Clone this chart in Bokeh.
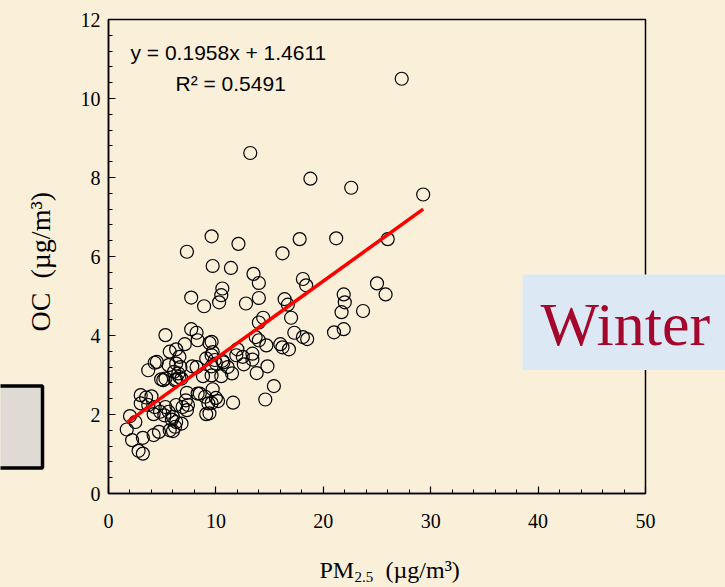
import math
from bokeh.plotting import figure
from bokeh.models import Range1d, Label, SingleIntervalTicker
from bokeh.core.properties import value
from bokeh.embed import file_html
from bokeh.resources import INLINE
from jinja2 import Template

# ---------------- data ----------------
pm25 = [27.3, 13.2, 18.8, 22.6, 29.3, 7.3, 9.6, 12.1, 16.2, 17.8, 21.2, 26.0,
        9.7, 11.4, 13.5, 14.0, 10.6, 18.1, 18.4, 25.0, 25.8, 21.9, 22.0, 21.7,
        23.7, 21.0, 21.9, 18.1, 18.5, 10.5, 10.3, 14.0, 12.8, 16.4, 16.7, 17.0,
        14.4, 14.0, 17.3, 13.7, 14.0, 14.7, 16.0, 16.2, 16.8, 9.6, 12.0, 11.9,
        13.4, 13.4, 12.6, 10.6, 11.1, 10.5, 11.5, 13.8, 14.8, 15.4, 14.6, 11.6,
        9.7, 10.0, 9.6, 9.4, 9.7, 7.7, 8.9, 5.3, 7.7, 8.2, 8.3, 7.1,
        6.3, 5.7, 6.6, 9.4, 4.5, 5.6, 3.7, 6.1, 6.5, 4.9, 5.3, 6.3,
        6.8, 7.8, 8.2, 8.8, 9.6, 9.1, 10.0, 9.6, 3.0, 3.5, 4.0, 3.0,
        3.7, 4.3, 4.8, 4.2, 2.0, 2.5, 5.3, 5.6, 6.0, 5.2, 6.3, 7.2,
        7.4, 9.0, 9.3, 9.1, 1.7, 2.2, 3.2, 4.2, 4.7, 5.7, 6.2, 6.8,
        2.8, 3.2, 6.3, 5.9, 6.9, 7.3, 8.5, 10.2, 7.3, 8.3, 4.3, 6.3,
        6.7, 5.1, 6.2, 6.6, 9.6, 9.9, 10.7, 12.5, 6.0]
oc = [10.50, 8.62, 7.97, 7.74, 7.57, 6.12, 6.51, 6.32, 6.08, 6.44, 6.46, 6.44,
      5.76, 5.71, 5.56, 5.33, 5.19, 5.43, 5.27, 5.32, 5.04, 5.04, 4.84, 4.59,
      4.62, 4.08, 4.16, 3.96, 3.91, 5.02, 4.84, 4.95, 4.81, 4.92, 4.78, 4.45,
      4.45, 4.33, 4.07, 3.96, 3.88, 3.75, 3.78, 3.70, 3.65, 3.84, 3.65, 3.50,
      3.54, 3.39, 3.27, 3.36, 3.20, 2.97, 3.04, 3.05, 3.22, 2.72, 2.38, 2.30,
      2.64, 2.42, 2.29, 2.03, 3.58, 4.96, 4.74, 4.01, 4.16, 4.07, 3.88, 3.78,
      3.65, 3.59, 3.46, 3.81, 3.33, 3.25, 3.12, 3.08, 3.04, 2.89, 2.91, 2.89,
      2.91, 3.22, 3.20, 2.97, 3.22, 3.42, 3.29, 2.99, 2.49, 2.43, 2.46, 2.28,
      2.24, 2.19, 2.07, 2.01, 1.96, 1.81, 2.19, 2.07, 1.94, 1.98, 2.24, 2.36,
      2.24, 2.45, 2.28, 2.01, 1.62, 1.35, 1.41, 1.48, 1.56, 1.60, 1.69, 1.77,
      1.08, 1.01, 1.81, 1.87, 2.19, 2.11, 2.53, 2.34, 2.55, 2.53, 3.31, 3.29,
      3.20, 2.87, 2.87, 2.95, 3.50, 3.38, 3.32, 3.46, 1.58]

slope = 0.1958
intercept = 1.4611
r_squared = 0.5491
season = "Winter"
x_title = ["PM", "2.5", "(\u00b5g/m\u00b3)"]
y_title = "OC\u00a0\u00a0(\u00b5g/m\u00b3)"
x_axis_range = [0, 50]
y_axis_range = [0, 12]

# ---------------- styling ----------------
BG = "#FAF0DA"
SERIF = "Liberation Serif"
SANS = "Liberation Sans"
MID = 0.34   # baseline -> middle offset (fraction of font size)

FIG_W, FIG_H = 709, 571          # main figure (placed at the 8px page margin)
WIN_W, WIN_H = 725, 587          # overlay covers the whole window
FRAME_L, FRAME_T, FRAME_W, FRAME_H = 100, 11, 537, 474

p = figure(frame_width=FRAME_W, frame_height=FRAME_H,
           min_border_left=FRAME_L, min_border_top=FRAME_T,
           min_border_right=FIG_W - FRAME_L - FRAME_W,
           min_border_bottom=FIG_H - FRAME_T - FRAME_H,
           x_range=Range1d(*x_axis_range), y_range=Range1d(*y_axis_range),
           output_backend="svg", toolbar_location=None,
           background_fill_color=BG, border_fill_color=BG)
p.grid.visible = False
p.outline_line_color = "black"
p.outline_line_width = 1.5

p.xaxis.ticker = SingleIntervalTicker(interval=10, num_minor_ticks=5)
p.yaxis.ticker = SingleIntervalTicker(interval=2, num_minor_ticks=5)
p.axis.major_tick_in = 7
p.axis.major_tick_out = 0
p.axis.minor_tick_in = 4
p.axis.minor_tick_out = 0
p.axis.axis_line_width = 1.5
p.axis.major_tick_line_width = 1.2
p.axis.minor_tick_line_width = 1
p.axis.major_label_text_font = SERIF
p.axis.major_label_text_font_size = "20px"
p.axis.major_label_text_color = "black"
p.xaxis.major_label_standoff = 20
p.yaxis.major_label_standoff = 8

# points
p.scatter(pm25, oc, marker="circle", size=13, fill_color=None,
          line_color="black", line_width=1.2)

# regression line
fit_x = [min(pm25), max(pm25)]
fit_y = [slope * v + intercept for v in fit_x]
p.line(fit_x, fit_y, line_color="#FF0000", line_width=3.5)

# helpers: reference-window pixel -> data coordinate (annotation placement)
XS = FRAME_W / (x_axis_range[1] - x_axis_range[0])
YS = FRAME_H / (y_axis_range[1] - y_axis_range[0])
def dx(px):
    return (px - 8 - FRAME_L) / XS
def dy(py):
    return (FRAME_T + FRAME_H - (py - 8)) / YS

for txt, (lx, ly) in [(f"y = {slope}x + {intercept}", (130, 59)),
                      (f"R\u00b2 = {r_squared}", (175, 90))]:
    p.add_layout(Label(x=dx(lx), y=dy(ly - MID * 21), text=txt, text_font=SANS,
                       text_font_size="21px", text_color="black",
                       text_align="left", text_baseline="middle"))

# ---------------- overlay (texts and boxes outside the plot frame) ----------------
q = figure(width=WIN_W, height=WIN_H, min_border=0,
           x_range=Range1d(dx(0), dx(WIN_W)),
           y_range=Range1d(dy(WIN_H), dy(0)),
           x_axis_location=None, y_axis_location=None,
           output_backend="svg", toolbar_location=None,
           background_fill_color=None, border_fill_color=None)
q.grid.visible = False
q.outline_line_color = None

# gray box at left (cut by the window edge)
q.quad(left=[dx(-6)], right=[dx(42)], top=[dy(385.5)], bottom=[dy(467.5)],
       fill_color="#DFDBD4", line_color="black", line_width=3.5)
# season box
q.quad(left=[dx(522)], right=[dx(730)], top=[dy(274)], bottom=[dy(369.5)],
       fill_color="#DCE8F4", line_color=None)
q.text(x=[dx(540)], y=[dy(345 - MID * 62)], text=[season], text_font=value(SERIF),
       text_font_size=value("62px"), text_color="#A5072C",
       text_align="left", text_baseline="middle")

# x-axis title: PM, subscript 2.5, (µg/m³)
xt_pos = [(319, 578, 24), (354, 582, 15), (385, 578, 24)]
for t, (tx, ty, fs) in zip(x_title, xt_pos):
    q.text(x=[dx(tx)], y=[dy(ty - MID * fs)], text=[t], text_font=value(SERIF),
           text_font_size=value(f"{fs}px"), text_color="black",
           text_align="left", text_baseline="middle")

# y-axis title (rotated)
q.text(x=[dx(50 - MID * 28)], y=[dy(331)], text=[y_title], text_font=value(SERIF),
       text_font_size=value("28px"), text_color="black",
       text_align="left", text_baseline="middle", angle=math.pi / 2)

TEMPLATE = Template("""{% from macros import embed %}<!DOCTYPE html>
<html lang="en">
  <head>
    <meta charset="utf-8">
    <title>{{ title }}</title>
    <style>
      html, body { background: #FAF0DA; }
      .layer0 { position: absolute; left: 8px; top: 8px; }
      .layer1 { position: absolute; left: 0px; top: 0px; }
    </style>
    {{ bokeh_css }}
    {{ bokeh_js }}
  </head>
  <body>
    {% for doc in docs %}{% for root in doc.roots %}
    <div class="layer{{ loop.index0 }}">{{ embed(root) }}</div>
    {% endfor %}{% endfor %}
    {{ plot_script }}
  </body>
</html>""")

open("out.html", "w").write(file_html([p, q], INLINE, template=TEMPLATE))
